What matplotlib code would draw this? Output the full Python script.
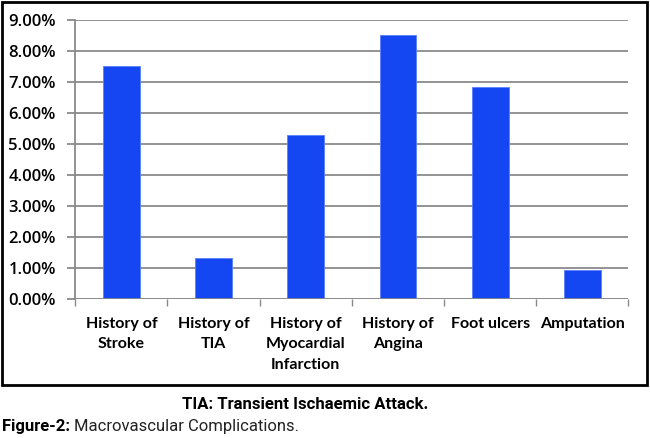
import numpy as np
import matplotlib.pyplot as plt
from matplotlib.patches import Rectangle

# data
categories = ['History of\nStroke', 'History of\nTIA', 'History of\nMyocardial\nInfarction',
              'History of\nAngina', 'Foot ulcers', 'Amputation']
values = [7.5, 1.3, 5.3, 8.5, 6.85, 0.92]
y_ticks = [0, 1, 2, 3, 4, 5, 6, 7, 8, 9]

grid_col = '#8a8a8a'

fig = plt.figure(figsize=(6.5, 4.38), dpi=100)
ax = fig.add_axes([0.1158, 0.318, 0.851, 0.6363])

x = np.arange(len(categories))
ax.bar(x, values, width=0.4, color='#1446f2', edgecolor='#5a80ff', linewidth=0.6, zorder=3)

ax.set_xlim(-0.5, len(categories) - 0.5)
ax.set_ylim(0, 9)
ax.set_yticks(y_ticks)
ax.set_yticklabels([f'{v:.2f}%' for v in y_ticks], fontsize=12, family='Open Sans',
                   fontweight='semibold')
ax.yaxis.grid(True, color=grid_col, linewidth=1.3, zorder=0)

# category boundaries as ticks, labels at centres
ax.set_xticks(np.arange(len(categories) + 1) - 0.5)
ax.set_xticklabels([])
ax.set_xticks(x, minor=True)
ax.set_xticklabels(categories, minor=True, fontsize=11.5, family='Lato', fontweight='bold',
                   linespacing=1.6, va='top')
ax.tick_params(axis='x', which='major', length=5, color=grid_col, width=1)
ax.tick_params(axis='x', which='minor', length=0, pad=13)
ax.tick_params(axis='y', length=6, color=grid_col, width=1.3, pad=8)

for s in ['top', 'right', 'bottom']:
    ax.spines[s].set_visible(False)
ax.spines['left'].set_color(grid_col)
ax.spines['left'].set_linewidth(1.3)
ax.axhline(0, color=grid_col, linewidth=1.3, zorder=4)

# outer frame of the chart
fig.patches.append(Rectangle((0.003, 0.12), 0.992, 0.876, transform=fig.transFigure,
                             fill=False, edgecolor='black', linewidth=2))

fig.text(0.469, 0.066, 'TIA: Transient Ischaemic Attack.', ha='center', va='baseline',
         fontsize=12, fontweight='bold', family='Roboto')
t1 = fig.text(0.003, 0.016, 'Figure-2:', ha='left', va='baseline', fontsize=12,
              fontweight='bold', family='Roboto')
ax.annotate('Macrovascular Complications.', xy=(1, 0), xycoords=t1, xytext=(3, 0),
            textcoords='offset points', ha='left', va='bottom', fontsize=12,
            family='Roboto', color='#222222', annotation_clip=False)

fig.savefig('out.png', dpi=100)
